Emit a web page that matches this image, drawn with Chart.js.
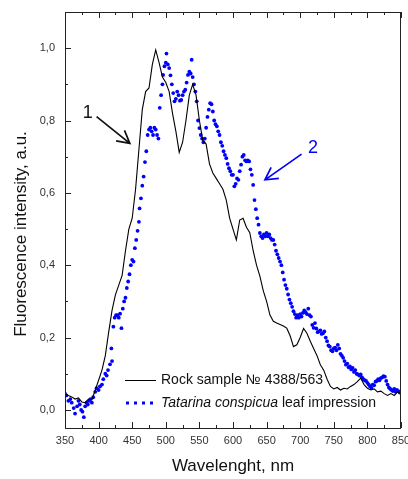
<!DOCTYPE html>
<html>
<head>
<meta charset="utf-8">
<script src="https://cdn.jsdelivr.net/npm/chart.js@4/dist/chart.umd.min.js"></script>
<style>
  body { margin: 0; background: #fff; }
  #wrap { width: 408px; height: 479px; }
</style>
</head>
<body>
<div id="wrap"><canvas id="spectra"></canvas></div>
<script>
// curve 1: rock sample, read every 5 nm
const rockWl = [
  350, 355, 360, 365, 370, 375, 380, 385, 390, 395,
  400, 405, 410, 415, 420, 425, 430, 435, 440, 445,
  450, 455, 460, 465, 470, 475, 480, 485, 490, 495,
  500, 505, 510, 515, 520, 525, 530, 535, 540, 545,
  550, 555, 560, 565, 570, 575, 580, 585, 590, 595,
  600, 605, 610, 615, 620, 625, 630, 635, 640, 645,
  650, 655, 660, 665, 670, 675, 680, 685, 690, 695,
  700, 705, 710, 715, 720, 725, 730, 735, 740, 745,
  750, 755, 760, 765, 770, 775, 780, 785, 790, 795,
  800, 805, 810, 815, 820, 825, 830, 835, 840, 845,
  850
];
const rockVal = [
  0.045, 0.040, 0.036, 0.030, 0.033, 0.022, 0.020, 0.030, 0.028, 0.055,
  0.082, 0.110, 0.150, 0.215, 0.275, 0.318, 0.345, 0.372, 0.440, 0.500,
  0.530, 0.610, 0.720, 0.830, 0.880, 0.890, 0.955, 0.995, 0.960, 0.920,
  0.905, 0.880, 0.820, 0.770, 0.712, 0.740, 0.800, 0.870, 0.900, 0.870,
  0.800, 0.745, 0.735, 0.680, 0.655, 0.640, 0.625, 0.610, 0.580, 0.530,
  0.500, 0.470, 0.525, 0.530, 0.505, 0.490, 0.440, 0.400, 0.370, 0.330,
  0.300, 0.262, 0.245, 0.240, 0.236, 0.232, 0.226, 0.205, 0.175, 0.180,
  0.200, 0.225, 0.212, 0.190, 0.170, 0.150, 0.125, 0.110, 0.085, 0.065,
  0.058, 0.062, 0.055, 0.060, 0.058, 0.065, 0.070, 0.078, 0.088, 0.070,
  0.060, 0.055, 0.058, 0.050, 0.052, 0.045, 0.040, 0.045, 0.040, 0.050,
  0.045
];

// curve 2: leaf impression (dots)
const leafWl = [
  350, 352, 355, 358, 360, 363, 365, 368, 370, 372,
  374, 376, 378, 380, 382, 384, 386, 388, 390, 392,
  395, 397, 400, 402, 405, 407, 410, 412, 414, 417,
  419, 420, 422, 424, 426, 428, 430, 432, 434, 436,
  438, 440, 442, 444, 446, 448, 450, 452, 454, 456,
  458, 460, 461, 463, 465, 467, 469, 471, 473, 475,
  477, 479, 481, 483, 485, 487, 489, 491, 493, 495,
  496, 498, 500, 501, 503, 505, 507, 509, 511, 513,
  515, 517, 519, 521, 523, 525, 527, 529, 531, 533,
  535, 537, 538.5, 540, 542, 544, 546, 548, 550, 552,
  554, 556, 558, 560, 562, 564, 566, 568, 570, 572,
  574, 576, 578, 580, 582, 584, 586, 588, 590, 592,
  594, 596, 598, 600, 602, 604, 606, 608, 610, 612,
  614, 616, 618, 620, 622, 624, 626, 628, 630, 632,
  634, 636, 638, 640, 642, 644, 646, 648, 650, 652,
  654, 656, 658, 660, 662, 664, 666, 668, 670, 672,
  674, 676, 678, 680, 682, 684, 686, 688, 690, 692,
  694, 696, 698, 700, 702, 704, 706, 708, 710, 712,
  714, 716, 718, 720, 722, 724, 726, 728, 730, 732,
  734, 736, 738, 740, 742, 744, 746, 748, 750, 752,
  754, 756, 758, 760, 762, 764, 766, 768, 770, 772,
  774, 776, 778, 780, 782, 784, 786, 788, 790, 792,
  794, 796, 798, 800, 802, 804, 806, 808, 810, 812,
  814, 816, 818, 820, 822, 824, 826, 828, 830, 832,
  834, 836, 838, 840, 842, 844, 846, 848, 850
];
const leafVal = [
  0.045, 0.040, 0.025, 0.030, 0.020, 0.005, -0.010, 0.010, 0.025, 0.015,
  0.000, -0.005, -0.020, 0.010, 0.020, 0.015, 0.025, 0.030, 0.020, 0.035,
  0.050, 0.060, 0.055, 0.065, 0.070, 0.085, 0.100, 0.095, 0.110, 0.126,
  0.170, 0.135, 0.230, 0.255, 0.262, 0.262, 0.255, 0.266, 0.226, 0.280,
  0.300, 0.310, 0.337, 0.355, 0.375, 0.400, 0.415, 0.410, 0.447, 0.470,
  0.495, 0.520, 0.557, 0.585, 0.620, 0.645, 0.685, 0.715, 0.760, 0.775,
  0.780, 0.770, 0.760, 0.780, 0.775, 0.760, 0.750, 0.835, 0.870, 0.900,
  0.926, 0.950, 0.960, 0.985, 0.955, 0.945, 0.925, 0.900, 0.876, 0.853,
  0.860, 0.880, 0.870, 0.855, 0.857, 0.870, 0.880, 0.885, 0.905, 0.926,
  0.935, 0.930, 0.968, 0.920, 0.900, 0.880, 0.853, 0.800, 0.779, 0.760,
  0.750, 0.740, 0.750, 0.780, 0.810, 0.830, 0.848, 0.845, 0.825, 0.800,
  0.790, 0.784, 0.770, 0.760, 0.740, 0.730, 0.715, 0.705, 0.696, 0.680,
  0.668, 0.660, 0.650, 0.650, 0.618, 0.625, 0.640, 0.636, 0.660, 0.678,
  0.700, 0.705, 0.690, 0.687, 0.690, 0.687, 0.665, 0.650, 0.622, 0.580,
  0.555, 0.530, 0.512, 0.489, 0.480, 0.475, 0.485, 0.480, 0.489, 0.480,
  0.485, 0.475, 0.470, 0.470, 0.457, 0.440, 0.430, 0.420, 0.410, 0.400,
  0.380, 0.360, 0.345, 0.335, 0.319, 0.305, 0.295, 0.285, 0.273, 0.265,
  0.255, 0.262, 0.255, 0.265, 0.258, 0.268, 0.275, 0.270, 0.265, 0.280,
  0.262, 0.258, 0.235, 0.227, 0.240, 0.225, 0.215, 0.217, 0.220, 0.210,
  0.212, 0.217, 0.200, 0.190, 0.178, 0.175, 0.165, 0.162, 0.170, 0.172,
  0.165, 0.180, 0.170, 0.155, 0.150, 0.144, 0.135, 0.125, 0.128, 0.118,
  0.120, 0.112, 0.116, 0.105, 0.110, 0.100, 0.098, 0.095, 0.098, 0.090,
  0.085, 0.082, 0.080, 0.075, 0.070, 0.065, 0.061, 0.070, 0.068, 0.078,
  0.080, 0.085, 0.082, 0.088, 0.090, 0.093, 0.092, 0.080, 0.070, 0.062,
  0.058, 0.055, 0.052, 0.058, 0.050, 0.055, 0.052, 0.048, 0.050
];

const seriesNames = ["Rock sample № 4388/563", "Tatarina conspicua", " leaf impression"];
const xTitle = "Wavelenght, nm";
const yTitle = "Fluorescence intensity, a.u.";

const FONT = "Arial, 'Liberation Sans', sans-serif";
const BLUE = "#0000ff";

const toPoints = (xs, ys) => xs.map((x, i) => ({ x, y: ys[i] }));

function arrow(ctx, x1, y1, x2, y2, color) {
  const ang = Math.atan2(y2 - y1, x2 - x1);
  const head = 14;
  ctx.strokeStyle = color;
  ctx.lineWidth = 1.7;
  ctx.beginPath();
  ctx.moveTo(x1, y1);
  ctx.lineTo(x2, y2);
  ctx.moveTo(x2 - head * Math.cos(ang - 0.5), y2 - head * Math.sin(ang - 0.5));
  ctx.lineTo(x2, y2);
  ctx.lineTo(x2 - head * Math.cos(ang + 0.5), y2 - head * Math.sin(ang + 0.5));
  ctx.stroke();
}

// frame, inward ticks, legend, arrows and y title
const decorations = {
  id: "decorations",
  afterDatasetsDraw(chart) {
    const { ctx, chartArea: a, scales } = chart;
    const xs = scales.x, ys = scales.y;
    ctx.save();

    ctx.strokeStyle = "#222";
    ctx.lineWidth = 1;
    ctx.strokeRect(a.left + 0.5, a.top + 0.5, a.right - a.left - 1, a.bottom - a.top);

    ctx.beginPath();
    xs.ticks.forEach((t) => {
      if (t.value % 25 !== 0) return;
      const px = Math.round(xs.getPixelForValue(t.value)) + 0.5;
      const len = t.value % 50 === 0 ? 6 : 3;
      ctx.moveTo(px, a.bottom);
      ctx.lineTo(px, a.bottom - len);
      ctx.moveTo(px, a.top);
      ctx.lineTo(px, a.top + len);
    });
    ys.ticks.forEach((t) => {
      const k = Math.round(t.value * 10);
      if (Math.abs(t.value * 10 - k) > 1e-6) return;
      const py = Math.round(ys.getPixelForValue(t.value)) + 0.5;
      const len = k % 2 === 0 ? 6 : 3;
      ctx.moveTo(a.left, py);
      ctx.lineTo(a.left + len, py);
    });
    ctx.stroke();

    // legend
    const lx = a.left + 60;
    const ly1 = a.bottom - 48;
    const ly2 = a.bottom - 25;
    ctx.strokeStyle = "#000";
    ctx.lineWidth = 1;
    ctx.beginPath();
    ctx.moveTo(lx, ly1 + 0.5);
    ctx.lineTo(lx + 31, ly1 + 0.5);
    ctx.stroke();
    ctx.fillStyle = BLUE;
    for (let i = 0; i < 4; i++) ctx.fillRect(lx + 1 + i * 8, ly2 - 1.5, 3, 3);

    ctx.fillStyle = "#111";
    ctx.textBaseline = "middle";
    ctx.textAlign = "left";
    ctx.font = "14px " + FONT;
    ctx.fillText(seriesNames[0], lx + 36, ly1);
    ctx.font = "italic 14px " + FONT;
    ctx.fillText(seriesNames[1], lx + 36, ly2);
    const w = ctx.measureText(seriesNames[1]).width;
    ctx.font = "14px " + FONT;
    ctx.fillText(seriesNames[2], lx + 36 + w, ly2);

    // curve markers
    arrow(ctx, xs.getPixelForValue(397), ys.getPixelForValue(0.811),
      xs.getPixelForValue(446.5), ys.getPixelForValue(0.737), "#111");
    arrow(ctx, xs.getPixelForValue(702), ys.getPixelForValue(0.707),
      xs.getPixelForValue(647.5), ys.getPixelForValue(0.636), BLUE);
    ctx.font = "18px " + FONT;
    ctx.textAlign = "center";
    ctx.fillStyle = "#111";
    ctx.fillText("1", xs.getPixelForValue(384), ys.getPixelForValue(0.82));
    ctx.fillStyle = BLUE;
    ctx.fillText("2", xs.getPixelForValue(719), ys.getPixelForValue(0.725));

    // y axis title
    ctx.translate(21, (a.top + a.bottom) / 2 + 14);
    ctx.rotate(-Math.PI / 2);
    ctx.fillStyle = "#111";
    ctx.font = "17px " + FONT;
    ctx.fillText(yTitle, 0, 0);
    ctx.restore();
  },
};

new Chart(document.getElementById("spectra"), {
  type: "scatter",
  data: {
    datasets: [
      {
        label: seriesNames[0],
        data: toPoints(rockWl, rockVal),
        showLine: true,
        borderColor: "#000",
        borderWidth: 1.1,
        pointRadius: 0,
        tension: 0,
      },
      {
        label: seriesNames[1] + seriesNames[2],
        data: toPoints(leafWl, leafVal),
        showLine: false,
        backgroundColor: BLUE,
        borderWidth: 0,
        pointRadius: 1.9,
      },
    ],
  },
  options: {
    responsive: true,
    maintainAspectRatio: false,
    animation: false,
    layout: { padding: { top: 12, right: 7, left: 0, bottom: 0 } },
    plugins: { legend: { display: false }, tooltip: { enabled: false } },
    scales: {
      x: {
        type: "linear",
        min: 350,
        max: 850,
        afterFit: (s) => {
          s.height = 51;
          s.paddingLeft = 0;
          s.paddingRight = 0;
        },
        grid: { display: false, drawTicks: false },
        border: { display: false },
        ticks: {
          stepSize: 25,
          autoSkip: false,
          maxRotation: 0,
          padding: 6,
          color: "#333",
          font: { family: FONT, size: 11 },
          callback: (v) => (v % 50 === 0 ? String(v) : ""),
        },
        title: {
          display: true,
          text: xTitle,
          color: "#111",
          font: { family: FONT, size: 17 },
          padding: { top: 0, bottom: 2 },
        },
      },
      y: {
        min: -0.05,
        max: 1.1,
        afterFit: (s) => {
          s.width = 65;
          s.paddingTop = 0;
          s.paddingBottom = 0;
        },
        grid: { display: false, drawTicks: false },
        border: { display: false },
        ticks: {
          stepSize: 0.1,
          autoSkip: false,
          padding: 10,
          color: "#333",
          font: { family: FONT, size: 11 },
          callback: (v) => {
            const k = Math.round(v * 10);
            if (Math.abs(v * 10 - k) > 1e-6 || k % 2 !== 0) return "";
            return (k / 10).toFixed(1).replace(".", ",");
          },
        },
      },
    },
  },
  plugins: [decorations],
});
</script>
</body>
</html>
